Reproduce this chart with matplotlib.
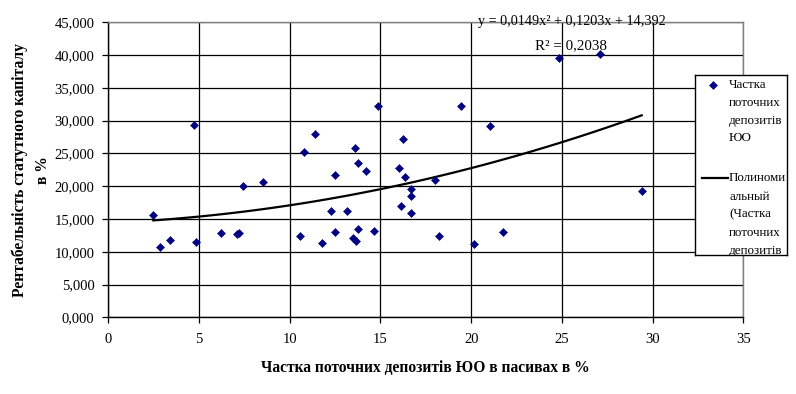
import matplotlib
matplotlib.use("Agg")
import matplotlib.pyplot as plt
import numpy as np
from matplotlib.ticker import FuncFormatter, MultipleLocator

# ---- data ----
share_x = [2.48, 2.87, 3.42, 4.74, 4.85, 6.23, 7.12, 7.23, 7.45, 8.55,
           10.54, 10.81, 11.42, 11.80, 12.28, 12.52, 12.52, 13.18, 13.46, 13.61,
           13.65, 13.79, 13.79, 14.23, 14.67, 14.84, 16.00, 16.16, 16.27, 16.33,
           16.66, 16.66, 16.71, 17.98, 18.20, 19.42, 20.13, 21.02, 21.73, 24.82,
           27.08, 29.40]
roe_y = [15.55, 10.67, 11.74, 29.40, 11.43, 12.80, 12.65, 12.80, 20.10, 20.60,
         12.35, 25.15, 27.90, 11.28, 16.16, 21.65, 12.96, 16.16, 12.09, 25.76,
         11.68, 23.52, 13.41, 22.26, 13.11, 32.16, 22.71, 16.92, 27.13, 21.39,
         19.51, 18.45, 15.85, 20.88, 12.35, 32.16, 11.13, 29.12, 12.96, 39.48,
         40.09, 19.21]
poly_coef = [0.0149, 0.1203, 14.392]
x_ticks = [0, 5, 10, 15, 20, 25, 30, 35]
y_ticks = [0, 5, 10, 15, 20, 25, 30, 35, 40, 45]

x_label = "Частка поточних депозитів ЮО в пасивах в %"
y_label = "Рентабельність статутного капіталу\nв %"
eq_text = "y = 0,0149x² + 0,1203x + 14,392"
r2_text = "R² = 0,2038"
legend_lines_1 = ["Частка", "поточних", "депозитів", "ЮО"]
legend_lines_2 = ["Полиноми", "альный", "(Частка", "поточних", "депозитів", "ЮО)"]

SERIF = ["Liberation Serif", "DejaVu Serif"]
plt.rcParams['font.family'] = SERIF

W, H = 796, 394
fig = plt.figure(figsize=(W / 100, H / 100), dpi=100)

def fx(px):
    return px / W

def fy(py):
    return 1 - py / H

left, right, top, bottom = 108.3, 743.3, 22.3, 317.3
ax = fig.add_axes([fx(left), fy(bottom), fx(right - left), (bottom - top) / H])
ax.set_xlim(0, 35)
ax.set_ylim(0, 45)
ax.set_xticks(x_ticks)
ax.set_yticks(y_ticks)
ax.grid(True, color='black', linewidth=0.9)
ax.set_axisbelow(True)
for s in ['top', 'right']:
    ax.spines[s].set_color('#808080')
    ax.spines[s].set_linewidth(1.0)
for s in ['left', 'bottom']:
    ax.spines[s].set_color('black')
    ax.spines[s].set_linewidth(1.0)
ax.tick_params(direction='out', length=4, width=0.9, color='black', labelsize=10.5)
ax.tick_params(axis='x', pad=7)
ax.tick_params(axis='y', pad=6)
ax.yaxis.set_major_formatter(FuncFormatter(lambda v, p: f"{v:.3f}".replace('.', ',')))
ax.xaxis.set_major_formatter(FuncFormatter(lambda v, p: f"{int(v)}"))

ax.plot(share_x, roe_y, linestyle='none', marker='D', markersize=3.8,
        color='#000080', markeredgewidth=0.4, zorder=3)

xs = np.linspace(min(share_x), max(share_x), 100)
ys = np.polyval(poly_coef, xs)
ax.plot(xs, ys, color='black', linewidth=1.6, zorder=2)

fig.text(fx(572), fy(21), eq_text, ha='center', va='center', fontsize=10.2)
fig.text(fx(571), fy(46), r2_text, ha='center', va='center', fontsize=10.8)

fig.text(fx(425), fy(368), x_label, ha='center', va='center', fontsize=11.2,
         fontweight='bold')
fig.text(fx(31.5), fy(170), y_label, ha='center', va='center', rotation=90,
         fontsize=11.2, fontweight='bold', multialignment='center', linespacing=1.6)

# ---- legend box ----
lx0, lx1, ly0, ly1 = 695, 787, 75, 255
lax = fig.add_axes([fx(lx0), fy(ly1), fx(lx1 - lx0), (ly1 - ly0) / H])
lax.set_xlim(lx0, lx1)
lax.set_ylim(ly1, ly0)
lax.set_xticks([])
lax.set_yticks([])
for s in lax.spines.values():
    s.set_color('black')
    s.set_linewidth(1.0)
lax.set_facecolor('white')
lax.plot([713.3], [85], linestyle='none', marker='D', markersize=3.8,
         color='#000080', markeredgewidth=0.4, clip_on=True)
lax.plot([702, 728], [178.3, 178.3], color='black', linewidth=1.6, clip_on=True)
for i, t in enumerate(legend_lines_1):
    lax.text(729, 85 + i * 17.8, t, ha='left', va='center', fontsize=9.4, clip_on=True)
for i, t in enumerate(legend_lines_2):
    lax.text(729, 178.3 + i * 18.2, t, ha='left', va='center', fontsize=9.4, clip_on=True)

fig.savefig("out.png", dpi=100)
